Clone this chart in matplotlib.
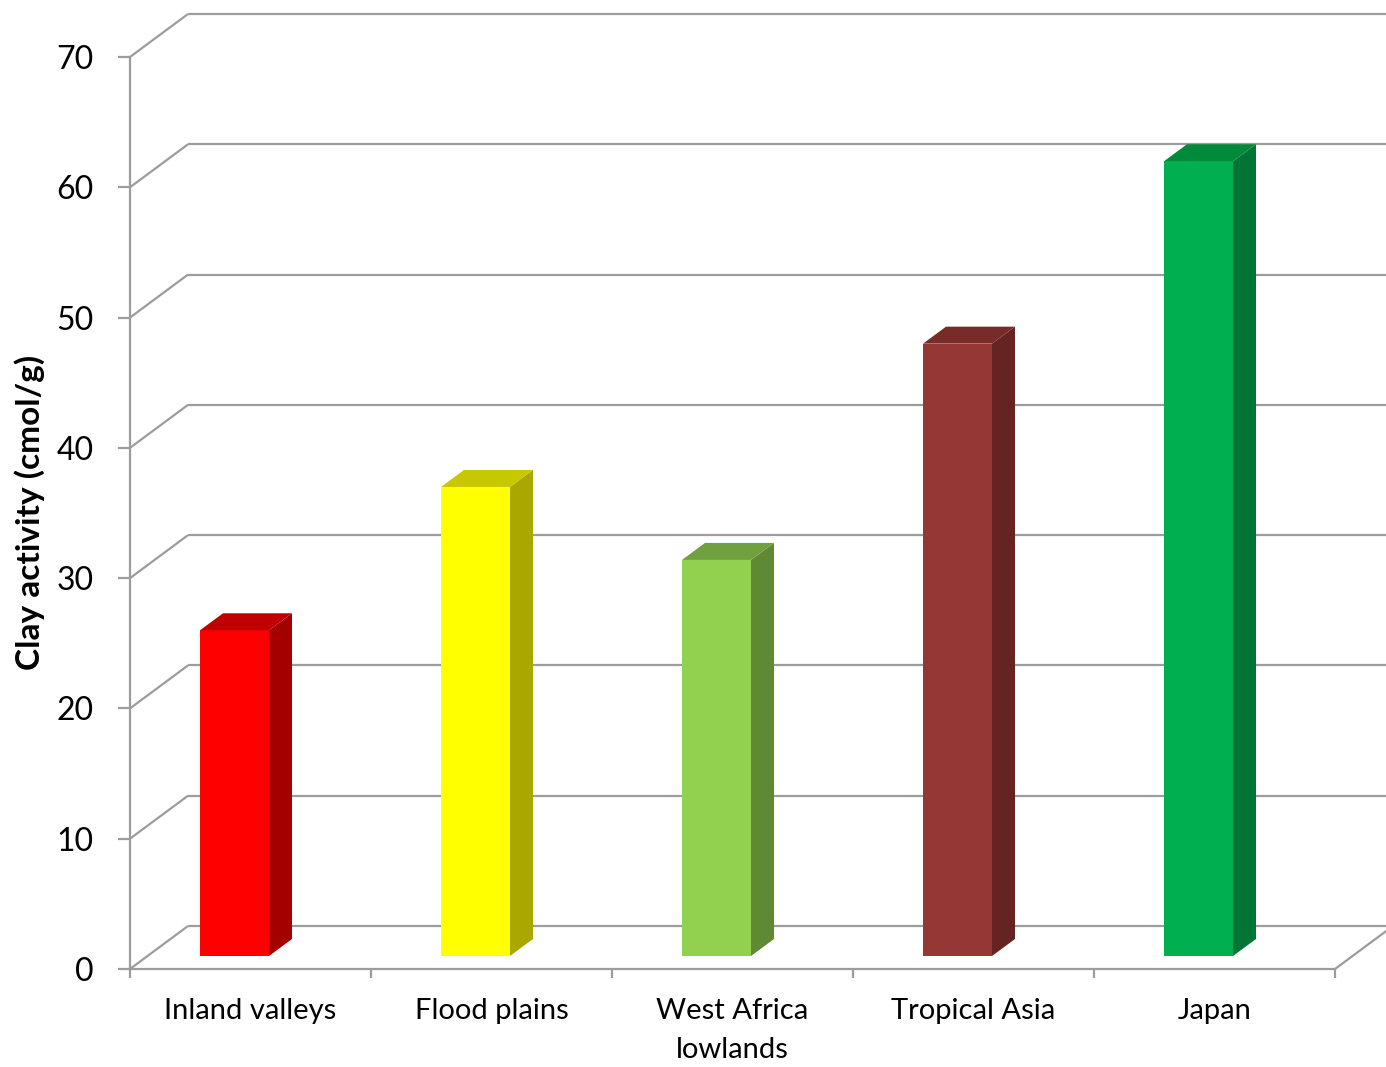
import matplotlib
matplotlib.use("Agg")
import matplotlib.pyplot as plt
from matplotlib.patches import Polygon

# Clay activity by region
categories = ["Inland valleys", "Flood plains", "West Africa\nlowlands", "Tropical Asia", "Japan"]
values = [25, 36, 30.4, 47, 61]
front_colors = ["#FF0000", "#FFFF00", "#92D050", "#953735", "#00B050"]
side_colors = ["#A50000", "#A8A800", "#5F8A33", "#652322", "#007536"]
top_colors = ["#C00000", "#C8C800", "#71A13E", "#772C2A", "#008A3C"]
yticks = list(range(0, 71, 10))
ylabel = "Clay activity (cmol/g)"

FONT = "Lato"
GRID = "#9C9C9C"
LW = 1.6

W, H = 1386, 1067
fig = plt.figure(figsize=(W / 100, H / 100), dpi=100)
x0, x1, y0, y1 = 130, 1335, 969, 57
ax = fig.add_axes([x0 / W, 1 - y0 / H, (x1 - x0) / W, (y0 - y1) / H])
ax.set_xlim(0, len(categories))
ax.set_ylim(0, 70)

px_x = (x1 - x0) / len(categories)   # pixels per category
px_y = (y0 - y1) / 70.0              # pixels per value unit

# oblique depth of the back wall
wall_dx = 58 / px_x
wall_dy = 43 / px_y
right_edge = (W - x0) / px_x

for v in yticks:
    ax.plot([0, wall_dx], [v, v + wall_dy], color=GRID, lw=LW, clip_on=False, zorder=1,
            solid_capstyle="butt")
    ax.plot([wall_dx, right_edge], [v + wall_dy, v + wall_dy], color=GRID, lw=LW,
            clip_on=False, zorder=1, solid_capstyle="butt")

# right edge of the floor
ax.plot([len(categories), len(categories) + wall_dx], [0, wall_dy], color=GRID, lw=LW,
        clip_on=False, zorder=1)

# columns
bar_off = 70 / px_x
bar_w = 69 / px_x
base = 13 / px_y
dep_dx = 23 / px_x
dep_dy = 17 / px_y
for i, v in enumerate(values):
    left = i + bar_off
    right = left + bar_w
    top = base + v
    ax.bar(left, v, width=bar_w, bottom=base, align="edge", color=front_colors[i],
           edgecolor="none", zorder=3)
    side = Polygon([(right, base), (right + dep_dx, base + dep_dy),
                    (right + dep_dx, top + dep_dy), (right, top)],
                   closed=True, facecolor=side_colors[i], edgecolor="none", zorder=3)
    cap = Polygon([(left, top), (left + dep_dx, top + dep_dy),
                   (right + dep_dx, top + dep_dy), (right, top)],
                  closed=True, facecolor=top_colors[i], edgecolor="none", zorder=3)
    ax.add_patch(side)
    ax.add_patch(cap)

# axes styling
for s in ["top", "right"]:
    ax.spines[s].set_visible(False)
for s in ["left", "bottom"]:
    ax.spines[s].set_color(GRID)
    ax.spines[s].set_linewidth(LW)
    ax.spines[s].set_zorder(2)

ax.set_yticks(yticks)
ax.set_yticklabels([str(t) for t in yticks], fontsize=23, fontname=FONT, color="black")
ax.tick_params(axis="y", length=8.5, width=LW, color=GRID, pad=17.5)

ax.set_xticks(range(len(categories) + 1))
ax.set_xticklabels([])
ax.tick_params(axis="x", which="major", length=6.5, width=LW, color=GRID)
ax.set_xticks([i + 0.5 for i in range(len(categories))], minor=True)
ax.set_xticklabels(categories, minor=True, fontsize=21, fontname=FONT, color="black",
                   linespacing=1.6)
ax.tick_params(axis="x", which="minor", length=0, pad=21)

fig.text(30 / W, 1 - 512 / H, ylabel, rotation=90, ha="center", va="center",
         fontsize=24, fontweight="bold", fontname=FONT)

fig.savefig("out.png", dpi=100)
